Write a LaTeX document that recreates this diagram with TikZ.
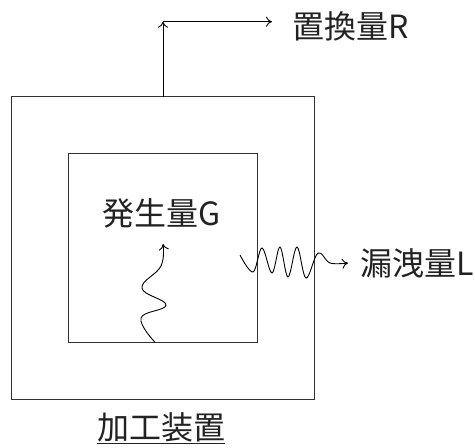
\documentclass[tikz,border=0pt]{standalone}
\usepackage{fontspec}
\setmainfont{Noto Sans CJK JP}
\usetikzlibrary{arrows.meta}
\definecolor{txt}{HTML}{222222}
\definecolor{boxline}{HTML}{333333}
\tikzset{
  frame/.style={draw=boxline, line width=1.3pt, minimum width=#1, inner sep=0pt, outer sep=0pt},
  lbl/.style={anchor=base west, inner sep=0pt, text=txt, font=\fontsize{32}{38}\selectfont},
  flow/.style={draw=black, line width=0.9pt, -{To[length=6pt,width=10pt]}},
  wave/.style={draw=black, line width=0.9pt, -{To[length=6pt,width=10pt]}},
}
\begin{document}
\begin{tikzpicture}[x=1pt,y=-1pt]
\useasboundingbox (0,0) rectangle (475,448);
\node[frame=303pt, minimum height=303pt] (outer) at (163,248.3) {};
\node[frame=189pt, minimum height=189pt] (inner) at (162.7,247.8) {};
\node[lbl] (R) at (292,38) {置換量R};
\node[lbl] (G) at (102,225) {発生量G};
\node[lbl] (L) at (360,275) {漏洩量L};
\node[lbl] (dev) at (97,439.5) {加工装置};
\draw[txt, line width=1.4pt] ([yshift=-4pt]dev.base west) -- ([yshift=-4pt]dev.base east);
\coordinate (corner) at (163,21.7);
\coordinate (rend) at (272,21.7);
\draw[flow] (outer.north -| corner) -- (corner);
\draw[flow] (corner) -- (rend);
\coordinate (gstart) at (inner.south -| 155,0);
\coordinate (gend) at (163,244);
\draw[wave] plot[smooth, tension=0.7] coordinates {(gstart) (141,318) (166,305) (142,288) (161,266) (gend)};
\coordinate (lstart) at (240,255);
\coordinate (lend) at (348,263);
\draw[wave] plot[smooth, tension=0.6] coordinates {(lstart) (253,272) (262,248) (272,273) (280,247) (288,277) (297,247) (306,278) (318,253) (330,263) (lend)};
\end{tikzpicture}
\end{document}
